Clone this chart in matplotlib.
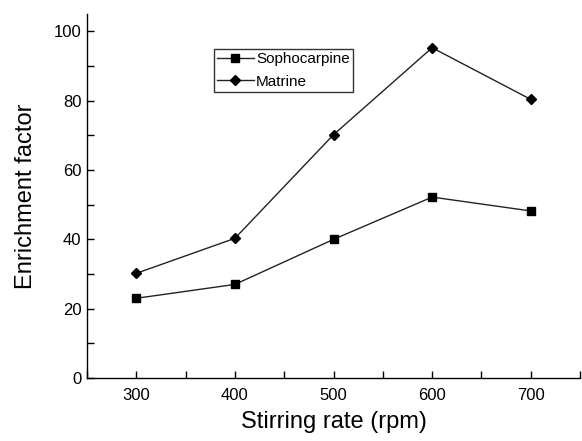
import matplotlib
matplotlib.use("Agg")
import matplotlib.pyplot as plt
from matplotlib.ticker import MultipleLocator

plt.rcParams['font.family'] = ['Liberation Sans', 'DejaVu Sans']

stirring = [300, 400, 500, 600, 700]
sophocarpine = [23.0, 27.0, 40.0, 52.2, 48.2]
matrine = [30.2, 40.3, 70.2, 95.3, 80.4]

fig = plt.figure(figsize=(5.82, 4.41), dpi=100)
ax = fig.add_axes([0.1495, 0.1429, 0.8471, 0.8251])

ax.plot(stirring, sophocarpine, color='#222222', lw=1.0, marker='s', ms=6,
        mfc='black', mec='black', label='Sophocarpine')
ax.plot(stirring, matrine, color='#222222', lw=1.0, marker='D', ms=5.5,
        mfc='black', mec='black', label='Matrine')

ax.set_xlim(250, 750)
ax.set_ylim(0, 105)
ax.xaxis.set_major_locator(MultipleLocator(100))
ax.xaxis.set_minor_locator(MultipleLocator(50))
ax.yaxis.set_major_locator(MultipleLocator(20))
ax.yaxis.set_minor_locator(MultipleLocator(10))
ax.tick_params(which='both', direction='in', length=5, width=1, labelsize=12)
ax.tick_params(axis='x', pad=7)
ax.tick_params(axis='y', pad=4)
ax.spines['top'].set_visible(False)
ax.spines['right'].set_visible(False)
for s in ('left', 'bottom'):
    ax.spines[s].set_linewidth(1.0)

ax.set_xlabel('Stirring rate (rpm)', fontsize=17, labelpad=6)
ax.set_ylabel('Enrichment factor', fontsize=17, labelpad=12)

leg = ax.legend(loc='upper left', bbox_to_anchor=(0.2576, 0.904), fontsize=11,
                frameon=True, fancybox=False, edgecolor='black',
                handlelength=2.4, borderpad=0.2, labelspacing=0.55,
                handletextpad=0.15, borderaxespad=0)
leg.get_frame().set_linewidth(1.0)

fig.savefig('out.png', dpi=100)
